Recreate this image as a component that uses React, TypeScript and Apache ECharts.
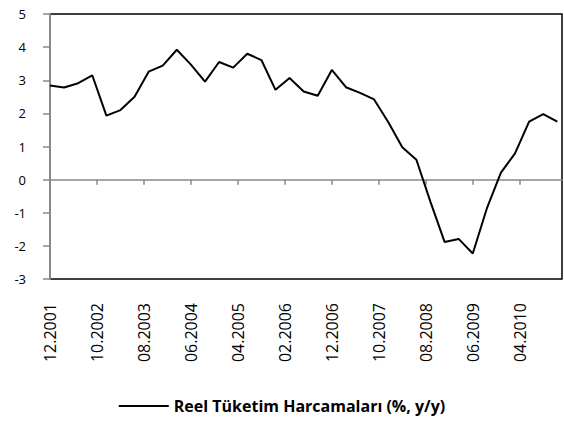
import React, { useEffect, useRef } from "react";
import * as echarts from "echarts";

// Quarterly values, 12.2001 .. 12.2010
const values: number[] = [
  2.84, 2.78, 2.91, 3.15, 1.93, 2.1, 2.5, 3.26, 3.44, 3.92, 3.47, 2.96, 3.55,
  3.38, 3.8, 3.61, 2.71, 3.07, 2.66, 2.53, 3.31, 2.79, 2.62, 2.42, 1.74, 0.98,
  0.6, -0.67, -1.88, -1.79, -2.23, -0.87, 0.21, 0.79, 1.75, 1.98, 1.75,
];
const startMonth = 12;
const startYear = 2001;
const monthCount = 110; // 12.2001 .. 01.2011
const seriesName = "Reel Tüketim Harcamaları (%, y/y)";

const pad = (n: number) => (n < 10 ? "0" + n : "" + n);
const months: string[] = [];
for (let i = 0; i < monthCount; i++) {
  const m0 = startMonth - 1 + i;
  const y = startYear + Math.floor(m0 / 12);
  const m = (m0 % 12) + 1;
  months.push(pad(m) + "." + y);
}
const points = values.map((v, i) => [months[i * 3], v]);

const FONT = "Open Sans";

export default function App() {
  const ref = useRef<HTMLDivElement>(null);
  useEffect(() => {
    document.body.style.margin = "0";
    const chart = echarts.init(ref.current!, undefined, { renderer: "svg" });
    chart.setOption({
      animation: false,
      textStyle: { fontFamily: FONT },
      grid: {
        left: 50,
        right: 2,
        top: 14,
        bottom: 142,
        show: true,
        borderColor: "#000",
        borderWidth: 1.5,
        backgroundColor: "transparent",
      },
      legend: {
        top: 393,
        left: "center",
        icon: "rect",
        itemWidth: 50,
        itemHeight: 2,
        itemGap: 10,
        itemStyle: { color: "#000" },
        textStyle: { fontFamily: FONT, fontSize: 16, fontWeight: "bold", color: "#000" },
        data: [seriesName],
      },
      xAxis: [
        {
          type: "category",
          data: months,
          boundaryGap: false,
          position: "bottom",
          axisLine: { show: false, onZero: false },
          axisTick: { show: false },
          splitLine: { show: false },
          axisLabel: {
            interval: 9,
            rotate: 90,
            margin: 24,
            fontSize: 16,
            fontFamily: FONT,
            color: "#000",
          },
        },
        {
          type: "category",
          data: months,
          boundaryGap: false,
          position: "bottom",
          axisLine: { show: true, onZero: true, lineStyle: { color: "#888", width: 1.5 } },
          axisTick: { show: true, interval: 9, length: 5, lineStyle: { color: "#888", width: 1.5 } },
          axisLabel: { show: false },
          splitLine: { show: false },
        },
      ],
      yAxis: {
        type: "value",
        min: -3,
        max: 5,
        interval: 1,
        axisLine: { show: true, lineStyle: { color: "#888", width: 2 } },
        axisTick: { show: true, length: 7, lineStyle: { color: "#888", width: 1.5 } },
        splitLine: { show: false },
        axisLabel: { margin: 24, fontSize: 13, fontFamily: FONT, color: "#000" },
      },
      series: [
        {
          name: seriesName,
          type: "line",
          xAxisIndex: 0,
          data: points,
          symbol: "none",
          showSymbol: false,
          lineStyle: { color: "#000", width: 2 },
          itemStyle: { color: "#000" },
        },
      ],
    });
    return () => chart.dispose();
  }, []);
  return <div ref={ref} style={{ width: 564, height: 421 }} />;
}
